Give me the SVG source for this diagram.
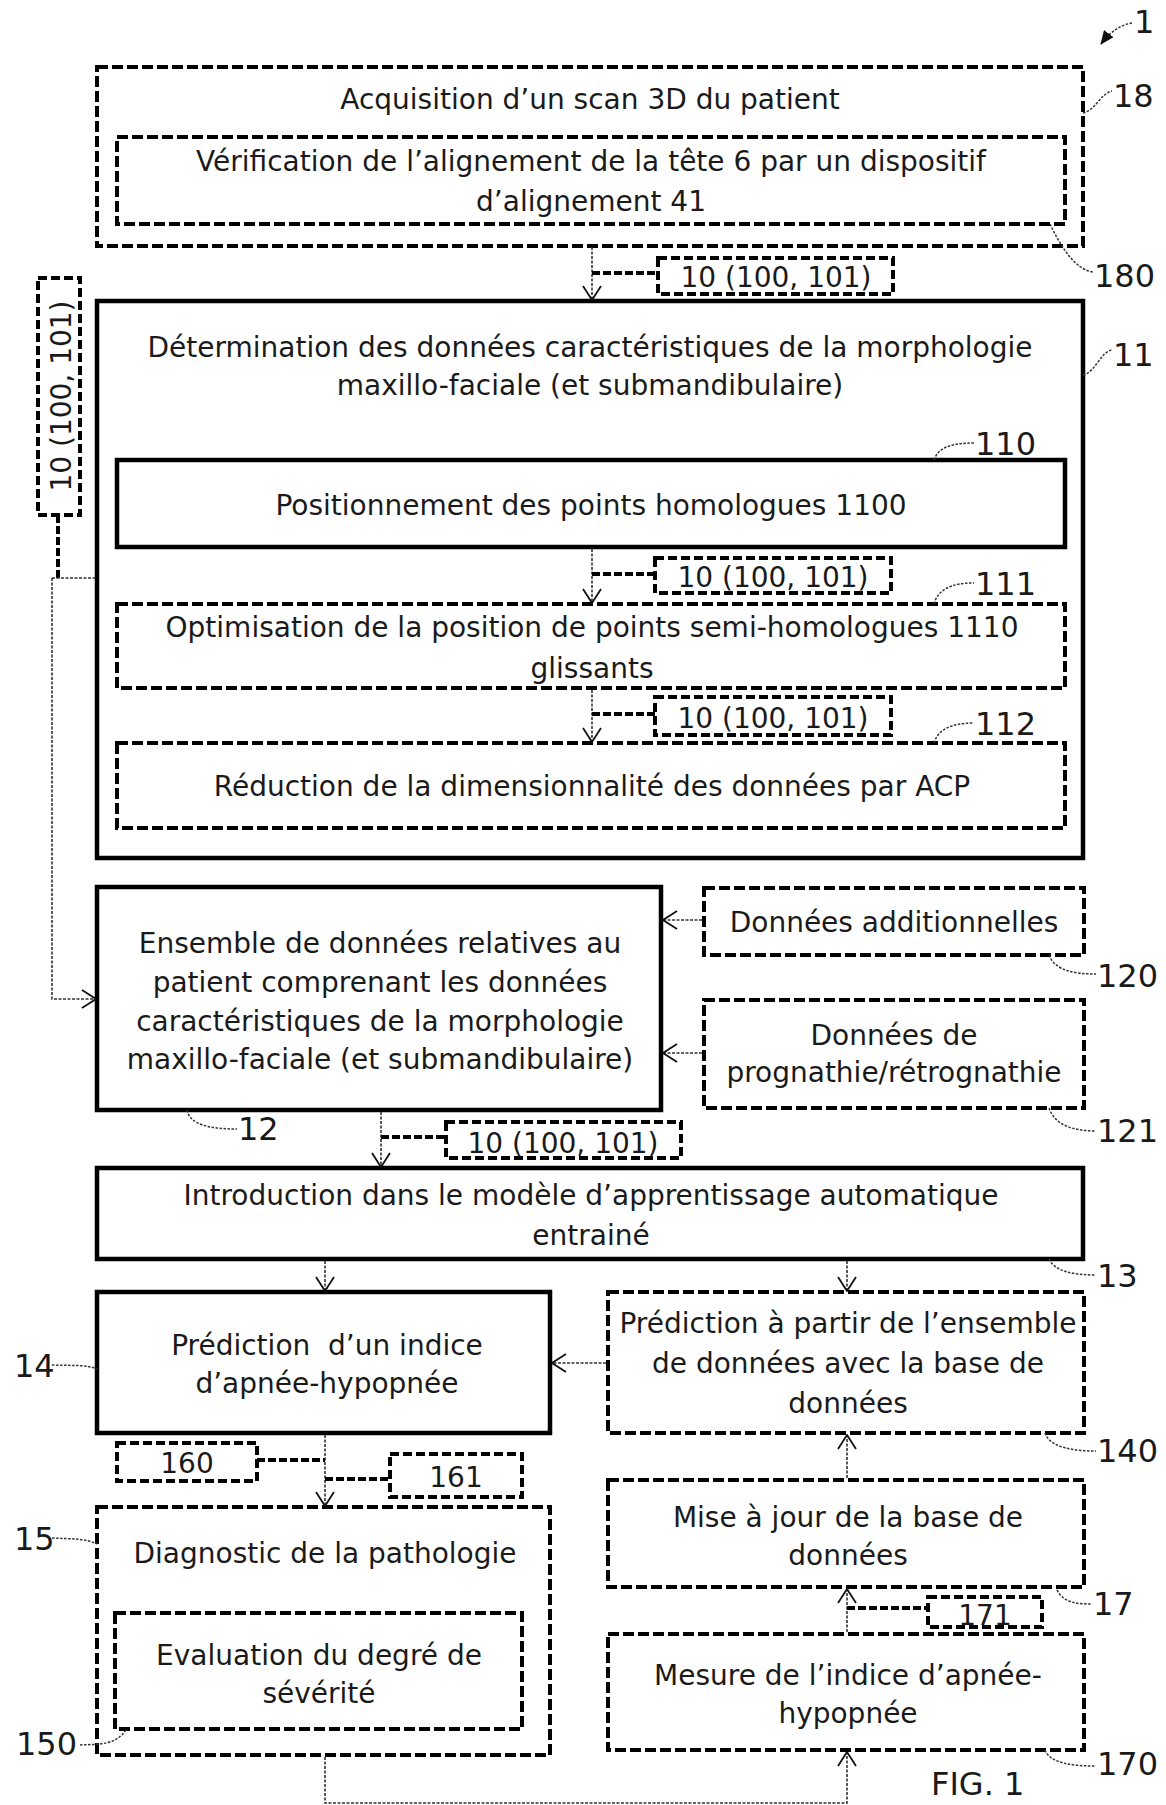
<svg xmlns="http://www.w3.org/2000/svg" width="1166" height="1805" viewBox="0 0 1166 1805">
<defs>
<marker id="ah" viewBox="0 0 16 20" refX="15" refY="10" markerWidth="16" markerHeight="20" markerUnits="userSpaceOnUse" orient="auto">
<path d="M1,1 L15,10 L1,19" fill="none" stroke="#111" stroke-width="1.8"/>
</marker>
<marker id="fa" viewBox="0 0 14 12" refX="13" refY="6" markerWidth="14" markerHeight="12" markerUnits="userSpaceOnUse" orient="auto">
<path d="M0,0 L14,6 L0,12 Z" fill="#111"/>
</marker>
</defs>
<style>
text{font-family:"DejaVu Sans",Verdana,sans-serif;fill:#1a1a1a}
.t{font-size:28px;text-anchor:middle}
.r{font-size:32px}
.solid{fill:#fff;stroke:#000;stroke-width:4.5}
.dash{fill:#fff;stroke:#000;stroke-width:4;stroke-dasharray:11 4}
.lab{fill:#fff;stroke:#000;stroke-width:4;stroke-dasharray:9 4}
.conn{fill:none;stroke:#333;stroke-width:1.6;stroke-dasharray:3 1.5}
.link{fill:none;stroke:#000;stroke-width:4;stroke-dasharray:8 3}
.lead{fill:none;stroke:#333;stroke-width:1.5;stroke-dasharray:2.5 1.5}
</style>
<rect width="1166" height="1805" fill="#fff"/>

<g id="node-18">
<rect class="dash" x="97" y="67" width="986" height="179"/>
<text class="t" x="590" y="109">Acquisition d’un scan 3D du patient</text>
</g>
<g id="node-180">
<rect class="dash" x="117" y="137" width="948" height="87"/>
<text class="t" x="591" y="171">Vérification de l’alignement de la tête 6 par un dispositif</text>
<text class="t" x="591" y="211">d’alignement 41</text>
</g>

<g id="node-11">
<rect class="solid" x="97" y="301" width="986" height="557"/>
<text class="t" x="590" y="357">Détermination des données caractéristiques de la morphologie</text>
<text class="t" x="590" y="395">maxillo-faciale (et submandibulaire)</text>
</g>
<g id="node-110">
<rect class="solid" x="117" y="460" width="948" height="87"/>
<text class="t" x="591" y="515">Positionnement des points homologues 1100</text>
</g>
<g id="node-111">
<rect class="dash" x="117" y="604" width="948" height="84"/>
<text class="t" x="592" y="637">Optimisation de la position de points semi-homologues 1110</text>
<text class="t" x="592" y="678">glissants</text>
</g>
<g id="node-112">
<rect class="dash" x="117" y="743" width="948" height="85"/>
<text class="t" x="592" y="796">Réduction de la dimensionnalité des données par ACP</text>
</g>

<g id="node-12">
<rect class="solid" x="97" y="887" width="564" height="223"/>
<text class="t" x="380" y="953">Ensemble de données relatives au</text>
<text class="t" x="380" y="992">patient comprenant les données</text>
<text class="t" x="380" y="1031">caractéristiques de la morphologie</text>
<text class="t" x="380" y="1069">maxillo-faciale (et submandibulaire)</text>
</g>
<g id="node-120">
<rect class="dash" x="704" y="888" width="380" height="67"/>
<text class="t" x="894" y="932">Données additionnelles</text>
</g>
<g id="node-121">
<rect class="dash" x="704" y="1000" width="380" height="108"/>
<text class="t" x="894" y="1045">Données de</text>
<text class="t" x="894" y="1082">prognathie/rétrognathie</text>
</g>

<g id="node-13">
<rect class="solid" x="97" y="1168" width="986" height="91"/>
<text class="t" x="591" y="1205">Introduction dans le modèle d’apprentissage automatique</text>
<text class="t" x="591" y="1245">entrainé</text>
</g>

<g id="node-14">
<rect class="solid" x="97" y="1292" width="453" height="141"/>
<text class="t" x="327" y="1355" xml:space="preserve">Prédiction  d’un indice</text>
<text class="t" x="327" y="1393">d’apnée-hypopnée</text>
</g>
<g id="node-140">
<rect class="dash" x="608" y="1292" width="476" height="141"/>
<text class="t" x="848" y="1333">Prédiction à partir de l’ensemble</text>
<text class="t" x="848" y="1373">de données avec la base de</text>
<text class="t" x="848" y="1413">données</text>
</g>

<g id="node-15">
<rect class="dash" x="97" y="1507" width="453" height="248"/>
<text class="t" x="325" y="1563">Diagnostic de la pathologie</text>
</g>
<g id="node-150">
<rect class="dash" x="115" y="1613" width="407" height="116"/>
<text class="t" x="319" y="1665">Evaluation du degré de</text>
<text class="t" x="319" y="1703">sévérité</text>
</g>

<g id="node-17">
<rect class="dash" x="608" y="1480" width="476" height="107"/>
<text class="t" x="848" y="1527">Mise à jour de la base de</text>
<text class="t" x="848" y="1565">données</text>
</g>
<g id="node-170">
<rect class="dash" x="608" y="1634" width="476" height="116"/>
<text class="t" x="848" y="1685">Mesure de l’indice d’apnée-</text>
<text class="t" x="848" y="1723">hypopnée</text>
</g>

<g id="connectors">
<path class="conn" d="M592,247 V300" marker-end="url(#ah)"/>
<path class="link" d="M592,273 H658"/>
<path class="conn" d="M592,549 V603" marker-end="url(#ah)"/>
<path class="link" d="M592,574 H655"/>
<path class="conn" d="M592,690 V742" marker-end="url(#ah)"/>
<path class="link" d="M592,714 H655"/>
<path class="link" d="M58,515 V578"/>
<path class="conn" d="M52,578 H95"/>
<path class="conn" d="M52,578 V999 H96" marker-end="url(#ah)"/>
<path class="conn" d="M702,920 H663" marker-end="url(#ah)"/>
<path class="conn" d="M702,1053 H663" marker-end="url(#ah)"/>
<path class="conn" d="M381,1112 V1167" marker-end="url(#ah)"/>
<path class="link" d="M381,1137 H446"/>
<path class="conn" d="M325,1261 V1291" marker-end="url(#ah)"/>
<path class="conn" d="M847,1261 V1291" marker-end="url(#ah)"/>
<path class="conn" d="M606,1363 H552" marker-end="url(#ah)"/>
<path class="conn" d="M325,1435 V1506" marker-end="url(#ah)"/>
<path class="link" d="M257,1460 H325"/>
<path class="link" d="M325,1479 H390"/>
<path class="conn" d="M847,1478 V1435" marker-end="url(#ah)"/>
<path class="conn" d="M847,1632 V1589" marker-end="url(#ah)"/>
<path class="link" d="M847,1608 H928"/>
<path class="conn" d="M325,1757 V1803 H847 V1752" marker-end="url(#ah)"/>
</g>

<g id="label-top">
<rect class="lab" x="658" y="258" width="235" height="36"/>
<text class="t" x="776" y="287">10 (100, 101)</text>
</g>
<g id="label-110">
<rect class="lab" x="655" y="558" width="236" height="35"/>
<text class="t" x="773" y="587">10 (100, 101)</text>
</g>
<g id="label-111">
<rect class="lab" x="655" y="697" width="236" height="38"/>
<text class="t" x="773" y="728">10 (100, 101)</text>
</g>
<g id="label-side">
<rect class="lab" x="38" y="278" width="42" height="237"/>
<text class="t" transform="translate(71,396) rotate(-90)">10 (100, 101)</text>
</g>
<g id="label-12">
<rect class="lab" x="446" y="1122" width="235" height="36"/>
<text class="t" x="563" y="1153">10 (100, 101)</text>
</g>
<g id="node-160">
<rect class="lab" x="117" y="1443" width="140" height="38"/>
<text class="t" x="187" y="1473">160</text>
</g>
<g id="node-161">
<rect class="lab" x="390" y="1454" width="132" height="43"/>
<text class="t" x="456" y="1487">161</text>
</g>
<g id="node-171">
<rect class="lab" x="928" y="1597" width="114" height="30"/>
<text class="t" x="985" y="1625">171</text>
</g>

<g id="refs">
<path class="lead" d="M1132,23 C1120,25 1110,32 1101,44" marker-end="url(#fa)"/>
<text class="r" x="1134" y="33">1</text>
<path class="lead" d="M1083,113 C1096,110 1100,94 1112,91"/>
<text class="r" x="1113" y="107">18</text>
<path class="lead" d="M1050,224 C1060,245 1075,270 1093,272"/>
<text class="r" x="1094" y="287">180</text>
<path class="lead" d="M1083,375 C1096,372 1100,352 1112,350"/>
<text class="r" x="1113" y="366">11</text>
<path class="lead" d="M934,460 C938,448 950,443 974,443"/>
<text class="r" x="975" y="455">110</text>
<path class="lead" d="M934,604 C938,590 950,583 974,583"/>
<text class="r" x="975" y="595">111</text>
<path class="lead" d="M934,743 C938,730 950,723 974,723"/>
<text class="r" x="975" y="735">112</text>
<path class="lead" d="M1049,955 C1055,971 1075,974 1096,974"/>
<text class="r" x="1097" y="987">120</text>
<path class="lead" d="M1049,1108 C1055,1126 1075,1131 1096,1131"/>
<text class="r" x="1097" y="1142">121</text>
<path class="lead" d="M187,1110 C190,1125 210,1129 237,1129"/>
<text class="r" x="238" y="1140">12</text>
<path class="lead" d="M1049,1259 C1055,1272 1075,1275 1096,1275"/>
<text class="r" x="1097" y="1287">13</text>
<path class="lead" d="M52,1365 C70,1366 85,1364 97,1369"/>
<text class="r" x="14" y="1377">14</text>
<path class="lead" d="M1045,1433 C1050,1448 1075,1451 1096,1451"/>
<text class="r" x="1097" y="1462">140</text>
<path class="lead" d="M52,1538 C70,1539 85,1538 97,1544"/>
<text class="r" x="14" y="1550">15</text>
<path class="lead" d="M1057,1590 C1064,1604 1080,1604 1092,1604"/>
<text class="r" x="1093" y="1615">17</text>
<path class="lead" d="M80,1745 C97,1744 115,1746 126,1730"/>
<text class="r" x="16" y="1755">150</text>
<path class="lead" d="M1045,1750 C1050,1764 1075,1766 1096,1766"/>
<text class="r" x="1097" y="1775">170</text>
<text class="r" x="931" y="1795">FIG. 1</text>
</g>
</svg>
